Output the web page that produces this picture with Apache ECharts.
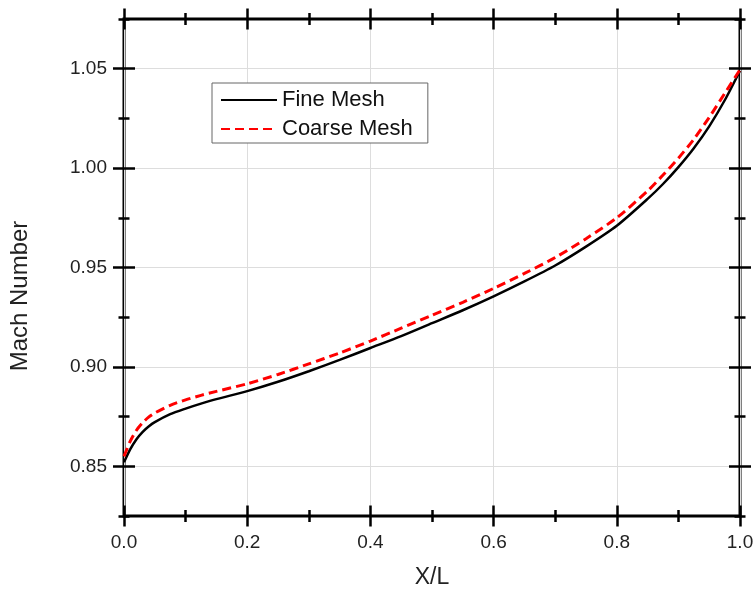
<!DOCTYPE html>
<html>
<head>
<meta charset="utf-8">
<script src="https://cdn.jsdelivr.net/npm/echarts@6/dist/echarts.min.js"></script>
<style>
  html, body { margin: 0; padding: 0; background: #fff; }
  #machChart { width: 755px; height: 595px; }
</style>
</head>
<body>
<div id="machChart"></div>
<script>
  // X/L stations
  var xPos = [0, 0.01, 0.02, 0.03, 0.04, 0.05, 0.075, 0.1, 0.125, 0.15, 0.2, 0.25, 0.3, 0.35, 0.4, 0.45,
    0.5, 0.55, 0.6, 0.65, 0.7, 0.75, 0.8, 0.85, 0.875, 0.9, 0.925, 0.95, 0.975, 1.0];
  // Mach number, fine mesh
  var fineMesh = [0.852, 0.8585, 0.8635, 0.8672, 0.870, 0.8722, 0.8762, 0.879, 0.8815, 0.8838, 0.8878,
    0.8925, 0.8978, 0.9035, 0.9095, 0.9155, 0.922, 0.9285, 0.9355, 0.943, 0.951, 0.9605, 0.971,
    0.9845, 0.992, 1.0005, 1.010, 1.021, 1.034, 1.049];
  // Mach number, coarse mesh
  var coarseMesh = [0.855, 0.8625, 0.868, 0.8718, 0.8747, 0.8768, 0.8807, 0.8834, 0.8857, 0.8877, 0.8915,
    0.8962, 0.9015, 0.907, 0.913, 0.9195, 0.926, 0.9325, 0.9395, 0.947, 0.955, 0.9645, 0.975,
    0.9885, 0.9965, 1.005, 1.0145, 1.0255, 1.0375, 1.0495];
  var yMajor = [0.85, 0.90, 0.95, 1.00, 1.05];
  var xMajor = [0, 0.2, 0.4, 0.6, 0.8, 1.0];

  var FONT = 'Liberation Sans, Arial, sans-serif';
  var Y_MIN = 0.825, Y_MAX = 1.075;

  function pairs(xs, ys) {
    var out = [];
    for (var i = 0; i < xs.length; i++) out.push([xs[i], ys[i]]);
    return out;
  }

  // axis that only draws ticks on one side of the frame line
  function tickAxis(dim, position, len, inside, tickOpt) {
    var ax = {
      type: 'value',
      position: position,
      min: dim === 'x' ? 0 : Y_MIN,
      max: dim === 'x' ? 1 : Y_MAX,
      axisLine: { show: false, onZero: false },
      axisLabel: { show: false },
      splitLine: { show: false },
      axisTick: { show: true, inside: inside, length: len, lineStyle: { color: '#000', width: 2.5 } }
    };
    if (tickOpt.interval) ax.interval = tickOpt.interval;
    if (tickOpt.values) ax.axisTick.customValues = tickOpt.values;
    return ax;
  }

  // ticks cross the frame: one axis outside, one inside
  function crossTicks(dim, position, len, tickOpt) {
    return [tickAxis(dim, position, len, false, tickOpt), tickAxis(dim, position, len, true, tickOpt)];
  }

  var xAxes = [
    {
      type: 'value', min: 0, max: 1, interval: 0.1, position: 'bottom',
      name: 'X/L', nameLocation: 'middle', nameGap: 50,
      nameTextStyle: { fontFamily: FONT, fontSize: 23, color: '#222' },
      axisLine: { show: false, onZero: false },
      axisTick: { show: false },
      axisLabel: {
        margin: 17, fontFamily: FONT, fontSize: 19, color: '#222',
        formatter: function (v) { return Math.round(v * 10) % 2 === 0 ? v.toFixed(1) : ''; }
      },
      splitLine: { show: true, lineStyle: { color: ['#dddddd', 'transparent'], width: 1 } }
    }
  ].concat(
    crossTicks('x', 'bottom', 10.5, { values: xMajor }),
    crossTicks('x', 'bottom', 6, { interval: 0.1 }),
    crossTicks('x', 'top', 10.5, { values: xMajor }),
    crossTicks('x', 'top', 6, { interval: 0.1 })
  );

  var yAxes = [
    {
      type: 'value', min: Y_MIN, max: Y_MAX, interval: 0.025, position: 'left',
      axisLine: { show: false, onZero: false },
      axisTick: { show: false },
      axisLabel: {
        margin: 17, fontFamily: FONT, fontSize: 19, color: '#222',
        formatter: function (v) { return Math.round(v * 1000) % 50 === 0 ? v.toFixed(2) : ''; }
      },
      splitLine: { show: true, lineStyle: { color: ['transparent', '#dddddd'], width: 1 } }
    }
  ].concat(
    crossTicks('y', 'left', 11, { values: yMajor }),
    crossTicks('y', 'left', 5.5, { interval: 0.025 }),
    crossTicks('y', 'right', 11, { values: yMajor }),
    crossTicks('y', 'right', 5.5, { interval: 0.025 })
  );

  var chart = echarts.init(document.getElementById('machChart'));

  chart.setOption({
    animation: false,
    backgroundColor: '#fff',
    grid: {
      left: 124, right: 15, top: 19, bottom: 79,
      show: true, borderColor: '#000', borderWidth: 3,
      outerBoundsMode: 'none'
    },
    legend: {
      orient: 'vertical',
      left: 212, top: 83,
      padding: [6, 15, 3, 8],
      itemWidth: 56, itemHeight: 14, itemGap: 7,
      borderColor: '#666', borderWidth: 1,
      backgroundColor: '#fff',
      itemStyle: { opacity: 0 },
      textStyle: { fontFamily: FONT, fontSize: 22, color: '#111' },
      data: ['Fine Mesh', 'Coarse Mesh']
    },
    xAxis: xAxes,
    yAxis: yAxes,
    graphic: [
      {
        type: 'text', x: 20, y: 296, rotation: Math.PI / 2,
        style: { text: 'Mach Number', fontFamily: FONT, fontSize: 24, fill: '#222', align: 'center', verticalAlign: 'middle' }
      }
    ],
    series: [
      {
        name: 'Fine Mesh',
        type: 'line',
        data: pairs(xPos, fineMesh),
        smooth: 0.25,
        symbol: 'none',
        lineStyle: { color: '#000', width: 2.5 },
        itemStyle: { color: '#000' }
      },
      {
        name: 'Coarse Mesh',
        type: 'line',
        data: pairs(xPos, coarseMesh),
        smooth: 0.25,
        symbol: 'none',
        lineStyle: { color: '#ff0000', width: 3, type: [9, 5] },
        itemStyle: { color: '#ff0000' }
      }
    ]
  });
</script>
</body>
</html>
